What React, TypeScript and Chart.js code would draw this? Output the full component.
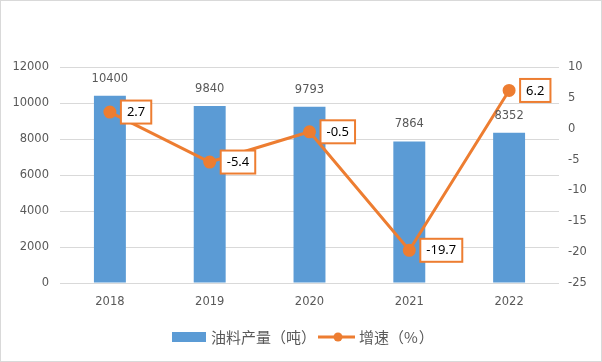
import React, { useEffect, useRef } from "react";
import { Chart, registerables } from "chart.js";

Chart.register(...registerables);

const categories = ["2018", "2019", "2020", "2021", "2022"];
const outputValues = [10400, 9840, 9793, 7864, 8352];
const growthValues = [2.7, -5.4, -0.5, -19.7, 6.2];
const barLabel = "油料产量（吨）";
const lineLabel = "增速（%）";

const BLUE = "#5B9BD5";
const ORANGE = "#ED7D31";
const GRAY = "#595959";
const NUM_FONT = "'DejaVu Sans', sans-serif";
const CJK_FONT = "'Noto Sans CJK SC', sans-serif";

function drawCJK(ctx: any, text: string, x: number, y: number, cell: number) {
  let cx = x;
  for (const ch of Array.from(text)) {
    const w = ctx.measureText(ch).width;
    let dx = (cell - w) / 2;
    let adv = cell;
    if (ch === "（") dx = (cell - w) * 0.75;
    if (ch === "）") dx = (cell - w) * 0.25;
    if (ch === "%") {
      dx = 0;
      adv = Math.max(w, 10) + 1;
    }
    ctx.fillText(ch, cx + dx, y);
    cx += adv;
  }
}

const customPlugin = {
  id: "custom",
  afterDatasetsDraw(chart: any) {
    const ctx = chart.ctx;
    ctx.save();
    // bar labels
    const barMeta = chart.getDatasetMeta(1);
    ctx.font = `11.5px ${NUM_FONT}`;
    ctx.fillStyle = GRAY;
    ctx.textAlign = "center";
    ctx.textBaseline = "middle";
    barMeta.data.forEach((el: any, i: number) => {
      ctx.fillText(String(outputValues[i]), el.x, el.y - 17);
    });
    // line labels
    const lineMeta = chart.getDatasetMeta(0);
    ctx.font = `13px 'Noto Sans', sans-serif`;
    lineMeta.data.forEach((el: any, i: number) => {
      const txt = String(growthValues[i]);
      const w = ctx.measureText(txt).width + 12;
      const h = 23;
      const x = el.x + 11;
      const y = el.y - h / 2;
      ctx.fillStyle = "#ffffff";
      ctx.fillRect(x, y, w, h);
      ctx.strokeStyle = ORANGE;
      ctx.lineWidth = 2;
      ctx.strokeRect(x, y, w, h);
      ctx.fillStyle = "#000000";
      ctx.textAlign = "left";
      ctx.fillText(txt, x + 6, el.y + 0.5);
    });
    ctx.restore();
  },
  afterDraw(chart: any) {
    const ctx = chart.ctx;
    ctx.save();
    // legend
    const ly = 337;
    ctx.fillStyle = BLUE;
    ctx.fillRect(172, ly - 5, 34, 10);
    ctx.font = `15px ${CJK_FONT}`;
    ctx.fillStyle = GRAY;
    ctx.textAlign = "left";
    ctx.textBaseline = "middle";
    drawCJK(ctx, barLabel, 211, ly, 15);
    ctx.strokeStyle = ORANGE;
    ctx.lineWidth = 3;
    ctx.beginPath();
    ctx.moveTo(318, ly);
    ctx.lineTo(355, ly);
    ctx.stroke();
    ctx.fillStyle = ORANGE;
    ctx.beginPath();
    ctx.arc(338, ly, 4.5, 0, Math.PI * 2);
    ctx.fill();
    ctx.fillStyle = GRAY;
    drawCJK(ctx, lineLabel, 359, ly, 15);
    // outer border
    ctx.strokeStyle = "#d9d9d9";
    ctx.lineWidth = 1;
    ctx.strokeRect(0.5, 0.5, chart.width - 1, chart.height - 1);
    ctx.restore();
  },
};

export default function App() {
  const ref = useRef<HTMLCanvasElement>(null);
  useEffect(() => {
    document.body.style.margin = "0";
    const chart = new Chart(ref.current as HTMLCanvasElement, {
      data: {
        labels: categories,
        datasets: [
          {
            type: "line",
            label: lineLabel,
            data: growthValues,
            yAxisID: "y1",
            borderColor: ORANGE,
            backgroundColor: ORANGE,
            borderWidth: 3,
            pointRadius: 5,
            pointHoverRadius: 5,
            pointBackgroundColor: ORANGE,
            pointBorderColor: ORANGE,
            tension: 0,
            order: 0,
          } as any,
          {
            type: "bar",
            label: barLabel,
            data: outputValues,
            yAxisID: "y",
            backgroundColor: BLUE,
            categoryPercentage: 1,
            barPercentage: 0.32,
            order: 1,
          } as any,
        ],
      },
      options: {
        responsive: false,
        animation: false,
        devicePixelRatio: 1,
        layout: { padding: { top: 67, bottom: 49, left: 0, right: 0 } },
        plugins: { legend: { display: false }, tooltip: { enabled: false } },
        scales: {
          x: {
            grid: { display: false, drawTicks: false },
            border: { display: false },
            ticks: { color: GRAY, font: { family: NUM_FONT, size: 11.5 }, padding: 12 },
            afterFit(scale: any) {
              scale.height = 30;
            },
          },
          y: {
            position: "left",
            min: 0,
            max: 12000,
            grid: { color: "#d9d9d9", drawTicks: false },
            border: { display: false },
            ticks: {
              stepSize: 2000,
              color: GRAY,
              font: { family: NUM_FONT, size: 11.5 },
              padding: 11,
              callback: (v: any) => String(v),
            },
            afterFit(scale: any) {
              scale.width = 60;
            },
          },
          y1: {
            position: "right",
            min: -25,
            max: 10,
            grid: { display: false, drawTicks: false },
            border: { display: false },
            ticks: {
              stepSize: 5,
              color: GRAY,
              font: { family: NUM_FONT, size: 11.5 },
              padding: 9,
              callback: (v: any) => String(v),
            },
            afterFit(scale: any) {
              scale.width = 43;
            },
          },
        },
      },
      plugins: [customPlugin],
    } as any);
    return () => chart.destroy();
  }, []);
  return <canvas ref={ref} width={602} height={362} style={{ display: "block" }} />;
}
